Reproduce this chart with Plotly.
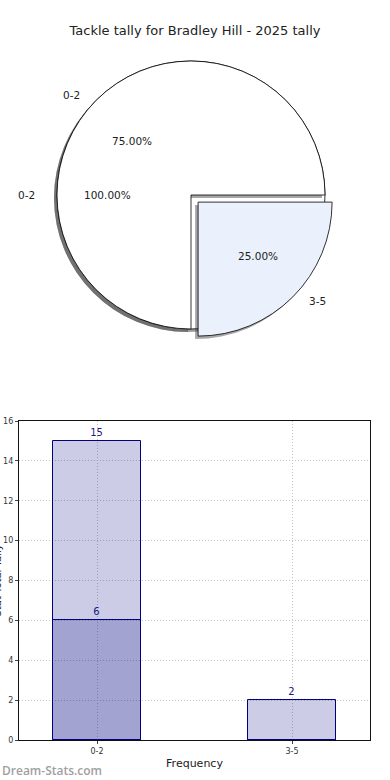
import math
import plotly.graph_objects as go

# ---------------- data ----------------
title_text = "Tackle tally for Bradley Hill - 2025 tally"
categories = ["0-2", "3-5"]
total_tally = [15, 0]      # lighter, taller series
recent_tally = [6, 2]      # second overlaid series
x_title = "Frequency"
y_title = "Stat Total Tally"
y_ticks = [0, 2, 4, 6, 8, 10, 12, 14, 16]
watermark = "Dream-Stats.com"

# ---------------- geometry (px) ----------------
W, H = 390, 780
CX, CY = 191, 195          # pie centre
R = 134                    # plotly pie radius
RX, RY = 140, 128          # label placement radii
PULL = 0.075
SHADOW_DX, SHADOW_DY = -3, 3
FONT = "DejaVu Sans"
AX_L, AX_R, AX_T, AX_B = 19, 370, 421, 740


def fx(x):
    return x / W


def fy(y):
    return 1 - y / H


def pie_domain(cx, cy, r, pull):
    half = r * (1 + pull)
    return dict(x=[fx(cx - half), fx(cx + half)], y=[fy(cy + half), fy(cy - half)])


def nonzero(labels, values):
    pairs = [(l, v) for l, v in zip(labels, values) if v]
    return [p[0] for p in pairs], [p[1] for p in pairs]


pie1_labels, pie1_values = nonzero(categories, total_tally)
pie2_labels, pie2_values = nonzero(categories, recent_tally)
pie2_pull = [0 if i == 0 else PULL for i in range(len(pie2_values))]
pie2_colors = ["white", "#EAF0FC"][: len(pie2_values)]

fig = go.Figure()

# first slice runs counterclockwise from 3 o'clock (matplotlib convention)
common = dict(sort=False, direction="counterclockwise", rotation=180,
              textinfo="none", hoverinfo="skip", showlegend=False)

# shadow of first pie
fig.add_trace(go.Pie(labels=pie1_labels, values=pie1_values,
                     marker=dict(colors=["rgba(60,60,60,0.5)"] * len(pie1_values), line=dict(width=0)),
                     domain=pie_domain(CX + SHADOW_DX, CY + SHADOW_DY, R, 0), **common))
fig.add_trace(go.Pie(labels=pie1_labels, values=pie1_values,
                     marker=dict(colors=["white"] * len(pie1_values), line=dict(color="black", width=0.8)),
                     domain=pie_domain(CX, CY, R, 0), **common))
# shadow of second pie
fig.add_trace(go.Pie(labels=pie2_labels, values=pie2_values, pull=pie2_pull,
                     marker=dict(colors=["rgba(60,60,60,0.45)"] * len(pie2_values), line=dict(width=0)),
                     domain=pie_domain(CX + SHADOW_DX, CY + SHADOW_DY, R, PULL), **common))
fig.add_trace(go.Pie(labels=pie2_labels, values=pie2_values, pull=pie2_pull,
                     marker=dict(colors=pie2_colors, line=dict(color="black", width=0.8)),
                     domain=pie_domain(CX, CY, R, PULL), **common))

annotations = []


def pie_labels(labels, values, explode):
    total = sum(values)
    start = 0.0
    for lab, v, ex in zip(labels, values, explode):
        frac = v / total
        mid = math.radians(start + 180 * frac)
        start += 360 * frac
        c, s = math.cos(mid), math.sin(mid)
        ox, oy = CX + ex * RX * c, CY - ex * RY * s
        lx, ly = ox + 1.1 * RX * c, oy - 1.1 * RY * s
        tx, ty = ox + 0.6 * RX * c, oy - 0.6 * RY * s
        annotations.append(dict(x=fx(lx), y=fy(ly), xref="paper", yref="paper", text=lab,
                                showarrow=False, xanchor="left" if c > 0 else "right",
                                yanchor="middle", font=dict(family=FONT, size=10.5, color="#222")))
        annotations.append(dict(x=fx(tx), y=fy(ty), xref="paper", yref="paper",
                                text=f"{frac * 100:.2f}%", showarrow=False, xanchor="center",
                                yanchor="middle", font=dict(family=FONT, size=10.5, color="#222")))


pie_labels(pie1_labels, pie1_values, [0] * len(pie1_values))
pie_labels(pie2_labels, pie2_values, pie2_pull)

# ---------------- bars ----------------
bar_fill = "rgba(0,0,128,0.2)"
for vals in (total_tally, recent_tally):
    fig.add_trace(go.Bar(x=categories, y=vals, width=0.45,
                         marker=dict(color=bar_fill, line=dict(color="#000080", width=1)),
                         text=[str(v) if v else "" for v in vals], textposition="outside",
                         textfont=dict(family=FONT, size=10, color="#1a1a80"),
                         cliponaxis=False, hoverinfo="skip", showlegend=False))

# y-axis title sits mostly beyond the left edge, as in the source image
annotations.append(dict(x=fx(-3), y=fy((AX_T + AX_B) / 2), xref="paper", yref="paper",
                        text=y_title, textangle=-90, showarrow=False,
                        xanchor="center", yanchor="middle",
                        font=dict(family=FONT, size=10, color="#222")))
annotations.append(dict(x=0, y=fy(770), xref="paper", yref="paper", text=watermark,
                        showarrow=False, xanchor="left", yanchor="middle",
                        font=dict(family="Open Sans", size=12, color="#a0a0a0", weight=600)))

grid = dict(showgrid=True, gridcolor="#c4c4c4", griddash="1px,2px", gridwidth=1)
fig.update_layout(
    width=W, height=H, margin=dict(l=0, r=0, t=0, b=0, autoexpand=False),
    paper_bgcolor="white", plot_bgcolor="white",
    barmode="overlay", bargap=0,
    title=dict(text=title_text, x=0.5, xanchor="center", y=fy(30), yanchor="middle",
               yref="container", font=dict(family=FONT, size=13, color="#222")),
    annotations=annotations,
    xaxis=dict(domain=[fx(AX_L), fx(AX_R)], range=[-0.4, 1.4], type="category", **grid,
               showline=True, linecolor="#111", linewidth=1.2, mirror=True,
               ticks="outside", ticklen=3, tickcolor="#444", automargin=False,
               tickfont=dict(family=FONT, size=8, color="#333"),
               title=dict(text=x_title, standoff=4, font=dict(family=FONT, size=11, color="#222")),
               fixedrange=True),
    yaxis=dict(domain=[fy(AX_B), fy(AX_T)], range=[0, 16], tickvals=y_ticks, **grid,
               showline=True, linecolor="#111", linewidth=1.2, mirror=True,
               ticks="outside", ticklen=3, tickcolor="#444", zeroline=False, automargin=False,
               tickfont=dict(family=FONT, size=8, color="#333"),
               fixedrange=True),
)

fig.write_html("out.html", config={"displayModeBar": False},
               post_script="document.body.style.margin='0px';")
